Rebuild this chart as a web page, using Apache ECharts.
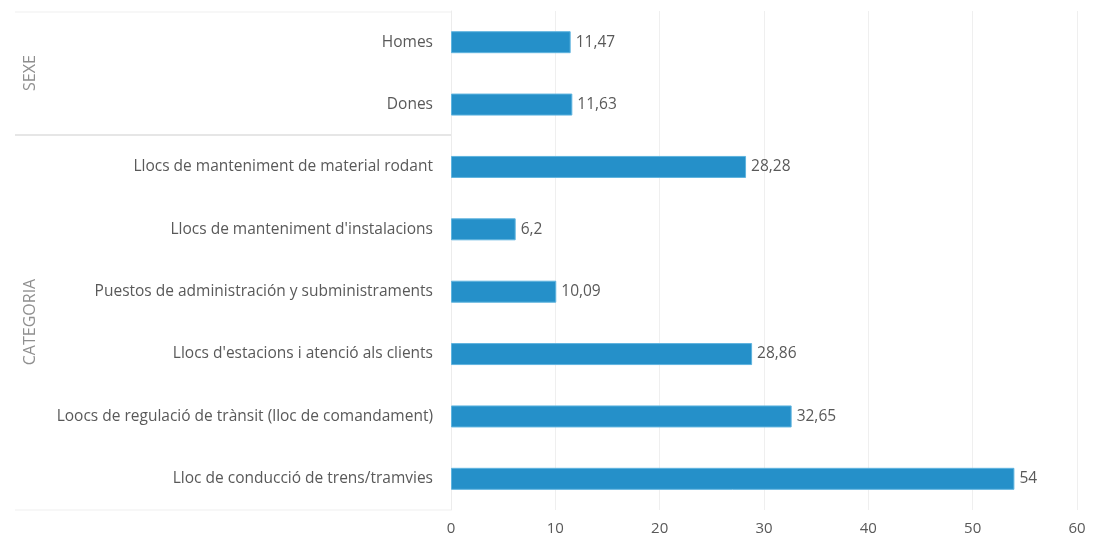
<!DOCTYPE html>
<html><head><meta charset="utf-8">
<script src="https://cdn.jsdelivr.net/npm/echarts@6/dist/echarts.min.js"></script>
<style>html,body{margin:0;padding:0;background:#fff}#c{width:1101px;height:540px}</style>
</head><body><div id="c"></div>
<script>
const categories = [
  "Homes",
  "Dones",
  "Llocs de manteniment de material rodant",
  "Llocs de manteniment d'instalacions",
  "Puestos de administración y subministraments",
  "Llocs d'estacions i atenció als clients",
  "Loocs de regulació de trànsit (lloc de comandament)",
  "Lloc de conducció de trens/tramvies"
];
const values = [11.47, 11.63, 28.28, 6.2, 10.09, 28.86, 32.65, 54];
const groupLabels = ["SEXE", "CATEGORIA"];
const xTicks = [0, 10, 20, 30, 40, 50, 60];

const font = "Open Sans";
const textColor = "#595959";
const chart = echarts.init(document.getElementById('c'));
chart.setOption({
  animation: false,
  grid: {left: 451, right: 24, top: 11, bottom: 30},
  xAxis: {
    type: 'value', min: xTicks[0], max: xTicks[xTicks.length-1], interval: 10,
    axisLine: {show: false}, axisTick: {show: false},
    axisLabel: {color: textColor, fontFamily: font, fontSize: 15, margin: 11},
    splitLine: {lineStyle: {color: '#efefef', width: 1}}
  },
  yAxis: {
    type: 'category', data: categories, inverse: true,
    axisLine: {show: true, lineStyle: {color: '#ececec'}}, axisTick: {show: false},
    axisLabel: {color: textColor, fontFamily: font, fontSize: 15.5, margin: 18}
  },
  series: [{
    type: 'bar', data: values, barWidth: 22,
    itemStyle: {color: '#2590c9', borderColor: '#5fb4df', borderWidth: 1},
    label: {show: true, position: 'right', distance: 5, color: textColor, fontFamily: font, fontSize: 15.5,
      formatter: p => String(p.value).replace('.', ',')}
  }],
  graphic: [
    {type: 'line', shape: {x1: 15, y1: 12, x2: 451, y2: 12}, style: {stroke: '#efefef', lineWidth: 1}},
    {type: 'line', shape: {x1: 15, y1: 135, x2: 451, y2: 135}, style: {stroke: '#e6e6e6', lineWidth: 2}},
    {type: 'line', shape: {x1: 15, y1: 510, x2: 451, y2: 510}, style: {stroke: '#efefef', lineWidth: 1}},
    {type: 'text', x: 30, y: 73, rotation: Math.PI/2, style: {text: groupLabels[0], fill: '#8f8f8f', font: '16px "Open Sans"', align: 'center', verticalAlign: 'middle'}},
    {type: 'text', x: 30, y: 322, rotation: Math.PI/2, style: {text: groupLabels[1], fill: '#8f8f8f', font: '16px "Open Sans"', align: 'center', verticalAlign: 'middle'}}
  ]
});
</script></body></html>
